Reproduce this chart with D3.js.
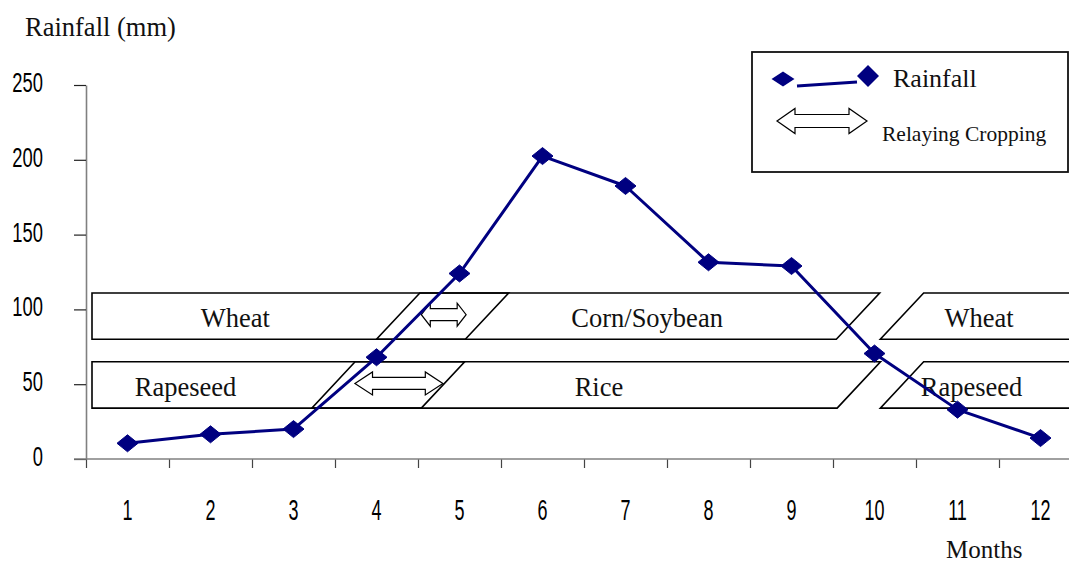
<!DOCTYPE html>
<html>
<head>
<meta charset="utf-8">
<script src="https://cdn.jsdelivr.net/npm/d3@7"></script>
<style>
  body { margin: 0; background: #fff; }
  svg { display: block; }
</style>
</head>
<body>
<svg id="chart" width="1069" height="563"></svg>
<script>
// Monthly rainfall (mm)
const months = [1, 2, 3, 4, 5, 6, 7, 8, 9, 10, 11, 12];
const rainfall = [10.5, 16.5, 20, 68, 124, 202.5, 182.5, 131.5, 129, 70.5, 33, 14];
const yTicks = [0, 50, 100, 150, 200, 250];

// Crop calendar: row 0 = upland rotation, row 1 = paddy rotation.
// from / to are positions on the month axis (0 = start of January);
// null means the crop runs past the edge of the year.
const cropNames = ["Wheat", "Corn/Soybean", "Wheat", "Rapeseed", "Rice", "Rapeseed"];
const cropRows  = [0, 0, 0, 1, 1, 1];
const cropFrom  = [null, 3.5, 9.57, null, 2.72, 9.57];
const cropTo    = [4.57, 9.04, null, 4.04, 9.05, null];
const cropLabelAt = [1.8, 6.76, 10.76, 1.2, 6.18, 10.67];
// Rainfall-axis extent of each crop row
const rowExtent = [[80, 111], [34, 65]];

// Relay-cropping windows (overlap of two crops), on the month axis
const relayRows = [0, 1];
const relayFrom = [4.04, 3.24];
const relayTo   = [4.58, 4.30];

const svg = d3.select("#chart");
const navy = "#000080";
const serif = "'Liberation Serif', 'Times New Roman', serif";
const sans = "'Liberation Sans', Arial, sans-serif";

const x = d3.scaleBand().domain(months).range([86, 1082]).padding(0);
const mx = d3.scaleLinear().domain([0, 12]).range([86, 1082]);
const y = d3.scaleLinear().domain([0, 250]).range([459, 85]);
const cx = m => x(m) + x.bandwidth() / 2;

// ---- axes ----
const yAxis = d3.axisLeft(y).tickValues(yTicks).tickSize(12).tickSizeOuter(0).tickFormat("");
const gy = svg.append("g").attr("transform", "translate(86,0)").call(yAxis);
gy.select(".domain").attr("stroke", "#808080").attr("stroke-width", 1.6);
gy.selectAll(".tick line").attr("stroke", "#222").attr("stroke-width", 1.2);

const xAxis = d3.axisBottom(mx).tickValues(d3.range(0, 12)).tickSize(9).tickSizeOuter(0).tickFormat("");
const gx = svg.append("g").attr("transform", "translate(0,459)").call(xAxis);
gx.select(".domain").remove();
gx.selectAll(".tick line").attr("stroke", "#444").attr("stroke-width", 1.2);
svg.append("line")
  .attr("x1", 74).attr("x2", mx(12)).attr("y1", y(0)).attr("y2", y(0))
  .attr("stroke", "#808080").attr("stroke-width", 1.6);

// condensed tick labels
svg.append("g").selectAll("text").data(yTicks).join("text")
  .attr("transform", d => `translate(43,${y(d) + 7}) scale(0.68,1)`)
  .attr("text-anchor", "end")
  .attr("font-family", sans).attr("font-size", 27).attr("fill", "#000")
  .text(d => d);

svg.append("g").selectAll("text").data(months).join("text")
  .attr("transform", d => `translate(${cx(d)},520) scale(0.6,1)`)
  .attr("text-anchor", "middle")
  .attr("font-family", sans).attr("font-size", 30).attr("fill", "#000")
  .text(d => d);

svg.append("text").attr("x", 25).attr("y", 36)
  .attr("font-family", serif).attr("font-size", 26.5).attr("fill", "#111")
  .text("Rainfall (mm)");
svg.append("text").attr("x", 946).attr("y", 558)
  .attr("font-family", serif).attr("font-size", 25).attr("fill", "#111")
  .text("Months");

// ---- crop calendar bands ----
function cropPath(i) {
  const r = cropRows[i];
  const yTop = y(rowExtent[r][1]), yBot = y(rowExtent[r][0]);
  const slant = (yBot - yTop) * 43 / 46;
  const p = d3.path();
  if (cropFrom[i] === null) {
    const L = mx(0) + 6;
    p.moveTo(L, yTop); p.lineTo(L, yBot);
  } else {
    p.moveTo(mx(cropFrom[i]) + slant, yTop); p.lineTo(mx(cropFrom[i]), yBot);
  }
  if (cropTo[i] === null) {
    p.lineTo(mx(12.2), yBot); p.lineTo(mx(12.2), yTop);
  } else {
    p.lineTo(mx(cropTo[i]), yBot); p.lineTo(mx(cropTo[i]) + slant, yTop);
  }
  p.closePath();
  return p.toString();
}

const gCrop = svg.append("g");
gCrop.selectAll("path").data(cropNames).join("path")
  .attr("d", (d, i) => cropPath(i))
  .attr("fill", "none").attr("stroke", "#000").attr("stroke-width", 1.6);

// hollow double-headed arrow
function arrowPath(x0, x1, cy, h, head) {
  const hl = head, hh = h / 2, sh = h * 0.26;
  return d3.line()([
    [x0, cy], [x0 + hl, cy - hh], [x0 + hl, cy - sh], [x1 - hl, cy - sh],
    [x1 - hl, cy - hh], [x1, cy], [x1 - hl, cy + hh], [x1 - hl, cy + sh],
    [x0 + hl, cy + sh], [x0 + hl, cy + hh]
  ]) + "Z";
}

svg.append("g").selectAll("path").data(relayRows).join("path")
  .attr("d", (r, i) => {
    const mid = (y(rowExtent[r][0]) + y(rowExtent[r][1])) / 2 - 1.5;
    const x0 = mx(relayFrom[i]), x1 = mx(relayTo[i]);
    return arrowPath(x0, x1, mid, 23, (x1 - x0) * 0.2);
  })
  .attr("fill", "#fff").attr("stroke", "#000").attr("stroke-width", 1.2);

gCrop.selectAll("text").data(cropNames).join("text")
  .attr("x", (d, i) => mx(cropLabelAt[i]))
  .attr("y", (d, i) => (y(rowExtent[cropRows[i]][0]) + y(rowExtent[cropRows[i]][1])) / 2 + 11)
  .attr("text-anchor", "middle")
  .attr("font-family", serif).attr("font-size", 26.5).attr("fill", "#111")
  .text(d => d);

// ---- rainfall line ----
const diamond = (w, h) => `M0,${-h / 2}L${w / 2},0L0,${h / 2}L${-w / 2},0Z`;

svg.append("path")
  .attr("d", d3.line().x((d, i) => cx(months[i])).y(d => y(d))(rainfall))
  .attr("fill", "none").attr("stroke", navy).attr("stroke-width", 3)
  .attr("stroke-linejoin", "round");

svg.append("g").selectAll("path").data(rainfall).join("path")
  .attr("transform", (d, i) => `translate(${cx(months[i])},${y(d)})`)
  .attr("d", diamond(21, 17))
  .attr("fill", navy).attr("stroke", navy).attr("stroke-width", 1).attr("stroke-linejoin", "round");

// ---- legend ----
const lg = svg.append("g");
lg.append("rect").attr("x", 752).attr("y", 52).attr("width", 316).attr("height", 120)
  .attr("fill", "#fff").attr("stroke", "#111").attr("stroke-width", 1.8);
lg.append("line").attr("x1", 797).attr("y1", 86).attr("x2", 857).attr("y2", 82)
  .attr("stroke", navy).attr("stroke-width", 3);
lg.append("path").attr("transform", "translate(783,79)").attr("d", diamond(23, 15)).attr("fill", navy);
lg.append("path").attr("transform", "translate(868,76)").attr("d", diamond(22, 22)).attr("fill", navy);
lg.append("text").attr("x", 893).attr("y", 87)
  .attr("font-family", serif).attr("font-size", 26).attr("fill", "#111").text("Rainfall");
lg.append("path").attr("d", arrowPath(777, 867, 121, 25, 18))
  .attr("fill", "#fff").attr("stroke", "#000").attr("stroke-width", 1.2);
lg.append("text").attr("x", 882).attr("y", 141)
  .attr("font-family", serif).attr("font-size", 21.5).attr("fill", "#111").text("Relaying Cropping");
</script>
</body>
</html>
